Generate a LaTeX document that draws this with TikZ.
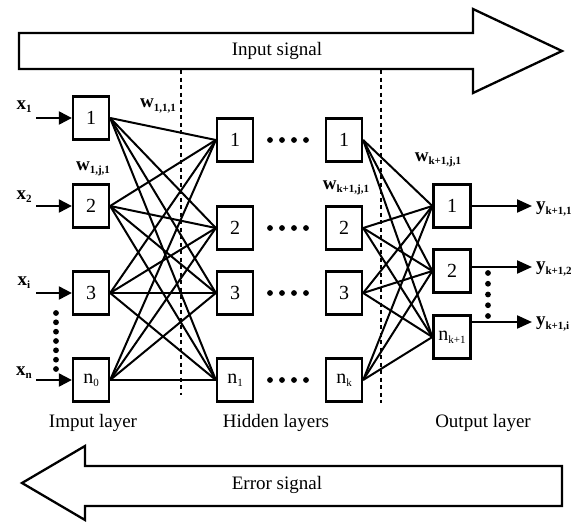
\documentclass[tikz,border=0pt]{standalone}
\usepackage{fontspec}
\setmainfont{Liberation Serif}
\usetikzlibrary{arrows.meta}
\newcommand{\mysub}[1]{\raisebox{-0.35ex}{\fontsize{11}{11}\selectfont #1}}
\begin{document}
\begin{tikzpicture}[x=1pt,y=-1pt,line width=2pt,
  neuron/.style={draw,line width=2.3pt,minimum width=36pt,minimum height=43pt,inner sep=0pt,font=\fontsize{20}{20}\selectfont},
  lbl/.style={font=\fontsize{19}{21}\selectfont,inner sep=0pt},
  vlbl/.style={font=\fontsize{19}{21}\selectfont\bfseries,inner sep=0pt},
  conn/.style={line width=2pt},
  inarrow/.style={line width=2.2pt,-{Triangle[length=13pt,width=13pt]}},
  outarrow/.style={line width=2.2pt,-{Triangle[length=15pt,width=13pt]}},
  sep/.style={line width=1.5pt,dash pattern=on 4pt off 3.5pt},
  bigarrow/.style={draw,line width=2.3pt,fill=white,line join=miter},
  dotmark/.style={fill=black}]
\useasboundingbox (0,0) rectangle (571,522);

% big signal arrows
\draw[bigarrow] (19,33) -- (473,33) -- (473,9) -- (562,51) -- (473,93) -- (473,69) -- (19,69) -- cycle;
\node[lbl] (insig) at (277,51) {Input signal};
\draw[bigarrow] (562,466) -- (85,466) -- (85,446) -- (22,483) -- (85,520) -- (85,506) -- (562,506) -- cycle;
\node[lbl] (errsig) at (277,485) {Error signal};

% separators
\coordinate (s1t) at (181,70);
\coordinate (s1b) at (181,395);
\coordinate (s2t) at (381,70);
\coordinate (s2b) at (381,403);
\draw[sep] (s1t) -- (s1b);
\draw[sep] (s2t) -- (s2b);

% input layer
\node[neuron] (i1) at (91,118) {1};
\node[neuron] (i2) at (91,206) {2};
\node[neuron] (i3) at (91,293) {3};
\node[neuron] (i4) at (91,380) {n\mysub{0}};

% hidden layer A
\node[neuron] (a1) at (235,140) {1};
\node[neuron] (a2) at (235,228) {2};
\node[neuron] (a3) at (235,293) {3};
\node[neuron] (a4) at (235,380) {n\mysub{1}};

% hidden layer B
\node[neuron] (b1) at (344,140) {1};
\node[neuron] (b2) at (344,228) {2};
\node[neuron] (b3) at (344,293) {3};
\node[neuron] (b4) at (344,380) {n\mysub{k}};

% output layer
\node[neuron,minimum width=37pt] (o1) at (452,206) {1};
\node[neuron,minimum width=37pt] (o2) at (452,271) {2};
\node[neuron,minimum width=37pt] (o3) at (452,337) {n\mysub{k+1}};

% connections
\foreach \i in {1,2,3,4}{
  \foreach \j in {1,2,3,4}{
    \draw[conn] (i\i.east) -- (a\j.west);
  }
  \foreach \j in {1,2,3}{
    \draw[conn] (b\i.east) -- (o\j.west);
  }
}

% inputs
\coordinate (xs1) at (36,118);
\coordinate (xs2) at (36,206);
\coordinate (xs3) at (36,293);
\coordinate (xs4) at (36,380);
\draw[inarrow] (xs1) -- (i1.west);
\draw[inarrow] (xs2) -- (i2.west);
\draw[inarrow] (xs3) -- (i3.west);
\draw[inarrow] (xs4) -- (i4.west);
\node[vlbl] (x1) at (24,107) {x\mysub{1}};
\node[vlbl] (x2) at (24,197) {x\mysub{2}};
\node[vlbl] (x3) at (24,283) {x\mysub{i}};
\node[vlbl] (x4) at (24,373) {x\mysub{n}};

% outputs
\coordinate (ye1) at (532,206);
\coordinate (ye2) at (532,267);
\coordinate (ye3) at (532,322);
\draw[outarrow] (o1.east) -- (ye1);
\draw[outarrow] (o2.east |- ye2) -- (ye2);
\draw[outarrow] (o3.east |- ye3) -- (ye3);
\node[vlbl,anchor=west] (y1) at (535,209) {y\mysub{k+1,1}};
\node[vlbl,anchor=west] (y2) at (535,269) {y\mysub{k+1,2}};
\node[vlbl,anchor=west] (y3) at (535,324) {y\mysub{k+1,i}};

% weight labels
\node[vlbl] (w1) at (158,106) {w\mysub{1,1,1}};
\node[vlbl] (w2) at (93,169) {w\mysub{1,j,1}};
\node[vlbl] (w3) at (346,188) {w\mysub{k+1,j,1}};
\node[vlbl] (w4) at (438,160) {w\mysub{k+1,j,1}};

% horizontal dots between hidden layers
\foreach \yy in {140,228,293,380}{
  \foreach \xx in {270,282,294,306}{
    \fill[dotmark] (\xx,\yy) circle (2.9pt);
  }
}
% vertical dots
\foreach \yy in {313,322.3,331.7,341,350.3,359.7,369}{
  \fill[dotmark] (56,\yy) circle (2.9pt);
}
\foreach \yy in {273,283.75,294.5,305.25,316}{
  \fill[dotmark] (488,\yy) circle (2.9pt);
}

% layer labels
\node[lbl] (l1) at (93,423) {Imput layer};
\node[lbl] (l2) at (276,423) {Hidden layers};
\node[lbl] (l3) at (483,423) {Output layer};
\end{tikzpicture}
\end{document}
